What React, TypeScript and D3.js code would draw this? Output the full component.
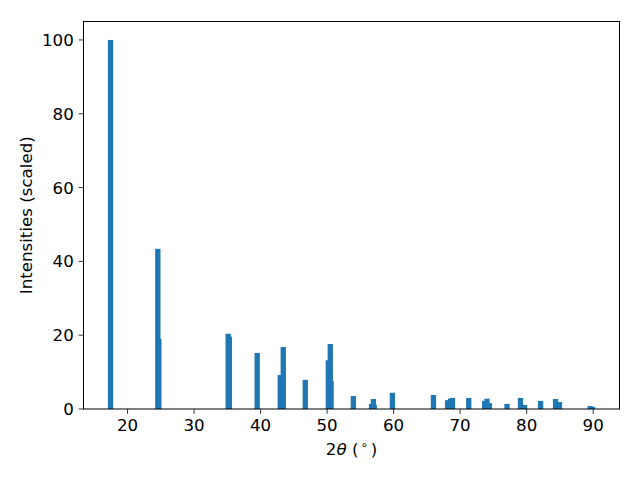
import React from "react";
import * as d3 from "d3";

const twoTheta = [
  17.44, 24.55, 24.7, 35.13, 35.3, 39.49, 42.96, 43.41, 46.72, 50.19, 50.48, 50.6,
  53.95, 56.68, 56.96, 57.09, 59.82, 65.99, 68.12, 68.57, 68.85, 71.3, 73.69, 74.04,
  74.4, 77.05, 79.08, 79.69, 82.1, 84.35, 84.93, 89.55, 89.9,
];
const intensity = [
  100, 43.4, 19.0, 20.4, 19.6, 15.2, 9.2, 16.8, 7.9, 13.2, 17.6, 7.6,
  3.5, 1.4, 2.7, 1.1, 4.4, 3.8, 2.4, 2.8, 3.0, 3.0, 2.2, 2.8,
  1.6, 1.4, 3.0, 1.1, 2.2, 2.7, 1.9, 0.8, 0.6,
];
const xTicks = [20, 30, 40, 50, 60, 70, 80, 90];
const yTicks = [0, 20, 40, 60, 80, 100];
const barWidth = 0.8;

const W = 640, H = 480;
const L = 83.5, R = 619.5, T = 21.5, B = 409;
const FONT = "DejaVu Sans, sans-serif";
const FS = 16.67;

export default function App() {
  const lo = d3.min(twoTheta)! - barWidth / 2;
  const hi = d3.max(twoTheta)! + barWidth / 2;
  const pad = (hi - lo) * 0.05;
  const x = d3.scaleLinear().domain([lo - pad, hi + pad]).range([L, R]);
  const y = d3.scaleLinear().domain([0, d3.max(intensity)! * 1.05]).range([B, T]);
  const tickLen = 4.86;
  return (
    <svg width={W} height={H} style={{ display: "block", position: "absolute", left: 0, top: 0 }} fontFamily={FONT}>
      <rect x={0} y={0} width={W} height={H} fill="white" />
      {twoTheta.map((v, i) => (
        <rect
          key={i}
          x={x(v - barWidth / 2)}
          width={x(v + barWidth / 2) - x(v - barWidth / 2)}
          y={y(intensity[i])}
          height={y(0) - y(intensity[i])}
          fill="#1f77b4"
        />
      ))}
      <rect x={L} y={T} width={R - L} height={B - T} fill="none" stroke="black" strokeWidth={1} />
      {xTicks.map((t) => (
        <g key={t} transform={`translate(${x(t)},${B})`}>
          <line y1={0} y2={tickLen} stroke="black" strokeWidth={0.8} />
          <text y={tickLen + 4.86 + 12.4} textAnchor="middle" fontSize={FS}>{t}</text>
        </g>
      ))}
      {yTicks.map((t) => (
        <g key={t} transform={`translate(${L},${y(t)})`}>
          <line x1={0} x2={-tickLen} stroke="black" strokeWidth={0.8} />
          <text x={-tickLen - 4.86} dy="0.36em" textAnchor="end" fontSize={FS}>{t}</text>
        </g>
      ))}
      <text
        transform={`translate(32,${(T + B) / 2}) rotate(-90)`}
        textAnchor="middle"
        fontSize={FS}
      >
        Intensities (scaled)
      </text>
      <text x={(L + R) / 2} y={455} textAnchor="middle" fontSize={FS}>
        <tspan>2</tspan>
        <tspan fontStyle="italic">θ</tspan>
        <tspan> (</tspan>
        <tspan fontSize={11.7} dx={2} dy={-6}>∘</tspan>
        <tspan dx={3} dy={6}>)</tspan>
      </text>
    </svg>
  );
}
